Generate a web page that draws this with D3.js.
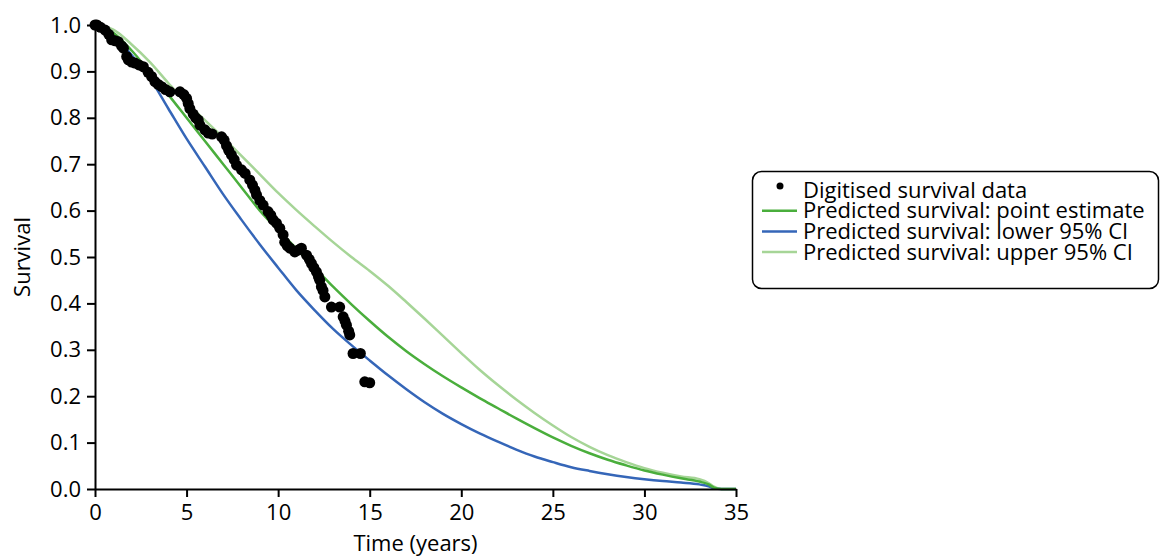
<!DOCTYPE html>
<html>
<head>
<meta charset="utf-8">
<script src="https://cdn.jsdelivr.net/npm/d3@7"></script>
<style>
  html, body { margin: 0; padding: 0; background: #fff; }
  svg { display: block; font-family: "Open Sans", "Noto Sans", sans-serif; }
</style>
</head>
<body>
<svg id="chart" width="1162" height="557"></svg>
<script>
// ---- Data ----
const xTicks = [0, 5, 10, 15, 20, 25, 30, 35];
const yTicks = [0.0, 0.1, 0.2, 0.3, 0.4, 0.5, 0.6, 0.7, 0.8, 0.9, 1.0];

const digitisedTime = [0.0,0.1,0.3,0.55,0.75,0.91,1.1,1.27,1.45,1.55,1.73,1.82,2.0,2.18,2.4,2.64,2.9,3.09,3.27,3.45,3.64,3.85,4.09,4.64,4.85,5.0,5.09,5.18,5.36,5.5,5.64,5.73,6.0,6.18,6.4,6.91,7.05,7.18,7.3,7.45,7.6,7.73,8.0,8.2,8.45,8.6,8.73,8.82,9.0,9.18,9.45,9.6,9.73,9.91,10.09,10.27,10.36,10.5,10.64,10.91,11.1,11.27,11.55,11.7,11.82,11.95,12.09,12.2,12.27,12.36,12.45,12.55,12.91,13.36,13.55,13.65,13.73,13.85,13.91,14.09,14.49,14.73,15.0];
const digitisedSurvival = [1.0,1.0,0.995,0.989,0.98,0.968,0.966,0.964,0.955,0.95,0.932,0.925,0.92,0.918,0.914,0.91,0.898,0.889,0.878,0.872,0.867,0.861,0.856,0.856,0.85,0.842,0.831,0.82,0.808,0.80,0.795,0.784,0.774,0.767,0.765,0.759,0.752,0.740,0.73,0.72,0.71,0.698,0.688,0.68,0.666,0.655,0.644,0.634,0.622,0.612,0.598,0.59,0.58,0.573,0.562,0.548,0.532,0.524,0.519,0.511,0.515,0.519,0.504,0.495,0.486,0.477,0.468,0.458,0.45,0.436,0.428,0.414,0.392,0.392,0.371,0.362,0.353,0.340,0.332,0.292,0.292,0.231,0.229];

const curveTime = [0,1,2,3,4,5,6,7,8,9,10,11,12,13,14,15,16,17,18,19,20,21,22,23,24,25,26,27,28,29,30,31,32,33,33.5,33.8,34.2,35];
const pointEstimate = [1.0,0.983,0.945,0.898,0.85,0.80,0.75,0.70,0.65,0.60,0.558,0.518,0.477,0.436,0.398,0.362,0.328,0.297,0.269,0.243,0.219,0.196,0.174,0.152,0.131,0.111,0.093,0.077,0.063,0.051,0.040,0.031,0.023,0.016,0.01,0.003,0.0,0.0];
const lowerCI = [1.0,0.98,0.935,0.885,0.82,0.755,0.695,0.635,0.58,0.527,0.477,0.428,0.385,0.345,0.31,0.277,0.245,0.215,0.187,0.162,0.140,0.120,0.102,0.085,0.070,0.058,0.047,0.039,0.032,0.026,0.021,0.017,0.014,0.010,0.006,0.001,0.0,0.0];
const upperCI = [1.0,0.99,0.958,0.92,0.875,0.832,0.795,0.757,0.718,0.678,0.638,0.601,0.566,0.532,0.500,0.470,0.438,0.403,0.367,0.330,0.293,0.257,0.224,0.193,0.164,0.137,0.112,0.091,0.073,0.058,0.045,0.035,0.027,0.021,0.013,0.005,0.0,0.0];

const seriesNames = ["Digitised survival data", "Predicted survival: point estimate", "Predicted survival: lower 95% CI", "Predicted survival: upper 95% CI"];
const seriesColors = ["#000000", "#4aae3c", "#3566b8", "#a6d597"];

// ---- Layout ----
const svg = d3.select("#chart");
const x = d3.scaleLinear().domain([0, 35]).range([95, 736]);
const y = d3.scaleLinear().domain([0, 1]).range([489, 25]);
const FS = "22px";

const line = d3.line()
  .x(d => x(d[0])).y(d => y(d[1]))
  .curve(d3.curveMonotoneX);

const lines = [
  { vals: upperCI, color: seriesColors[3] },
  { vals: lowerCI, color: seriesColors[2] },
  { vals: pointEstimate, color: seriesColors[1] }
];
lines.forEach(s => {
  svg.append("path")
    .datum(curveTime.map((t, i) => [t, s.vals[i]]))
    .attr("fill", "none")
    .attr("stroke", s.color)
    .attr("stroke-width", 2.5)
    .attr("d", line);
});

svg.append("g").selectAll("circle")
  .data(digitisedTime.map((t, i) => [t, digitisedSurvival[i]]))
  .join("circle")
  .attr("cx", d => x(d[0]))
  .attr("cy", d => y(d[1]))
  .attr("r", 5.5)
  .attr("fill", "#000");

// Axes
const xAxis = svg.append("g")
  .attr("transform", "translate(0,489)")
  .call(d3.axisBottom(x).tickValues(xTicks).tickFormat(d3.format("d")).tickSize(8).tickSizeOuter(0));
const yAxis = svg.append("g")
  .attr("transform", "translate(95,0)")
  .call(d3.axisLeft(y).tickValues(yTicks).tickFormat(d3.format(".1f")).tickSize(8).tickSizeOuter(0));

[xAxis, yAxis].forEach(g => {
  g.select(".domain").attr("stroke", "#000").attr("stroke-width", 2);
  g.selectAll(".tick line").attr("stroke", "#000").attr("stroke-width", 2);
  g.selectAll(".tick text")
    .attr("fill", "#000")
    .style("font-size", FS)
    .style("font-family", '"Open Sans", sans-serif');
});
xAxis.selectAll(".tick text").attr("dy", null).attr("y", 31);
yAxis.selectAll(".tick text").attr("x", -14);

svg.append("text")
  .attr("x", (x(0) + x(35)) / 2)
  .attr("y", 551)
  .attr("text-anchor", "middle")
  .style("font-size", FS)
  .text("Time (years)");

svg.append("text")
  .attr("transform", `translate(30,${y(0.5)}) rotate(-90)`)
  .attr("text-anchor", "middle")
  .style("font-size", FS)
  .text("Survival");

// Legend
const lg = svg.append("g");
lg.append("rect")
  .attr("x", 752.5).attr("y", 171.5)
  .attr("width", 406).attr("height", 117)
  .attr("rx", 9).attr("ry", 9)
  .attr("fill", "#fff").attr("stroke", "#000").attr("stroke-width", 1.5);

const rowY = [190, 210.7, 231.4, 252];
seriesNames.forEach((name, i) => {
  if (i === 0) {
    lg.append("circle").attr("cx", 780).attr("cy", rowY[i] - 4).attr("r", 3.5).attr("fill", "#000");
  } else {
    lg.append("line")
      .attr("x1", 762).attr("x2", 797)
      .attr("y1", rowY[i]).attr("y2", rowY[i])
      .attr("stroke", seriesColors[i]).attr("stroke-width", 2.5);
  }
  lg.append("text")
    .attr("x", 803).attr("y", rowY[i])
    .attr("dy", "0.35em")
    .style("font-size", FS)
    .text(name);
});
</script>
</body>
</html>
